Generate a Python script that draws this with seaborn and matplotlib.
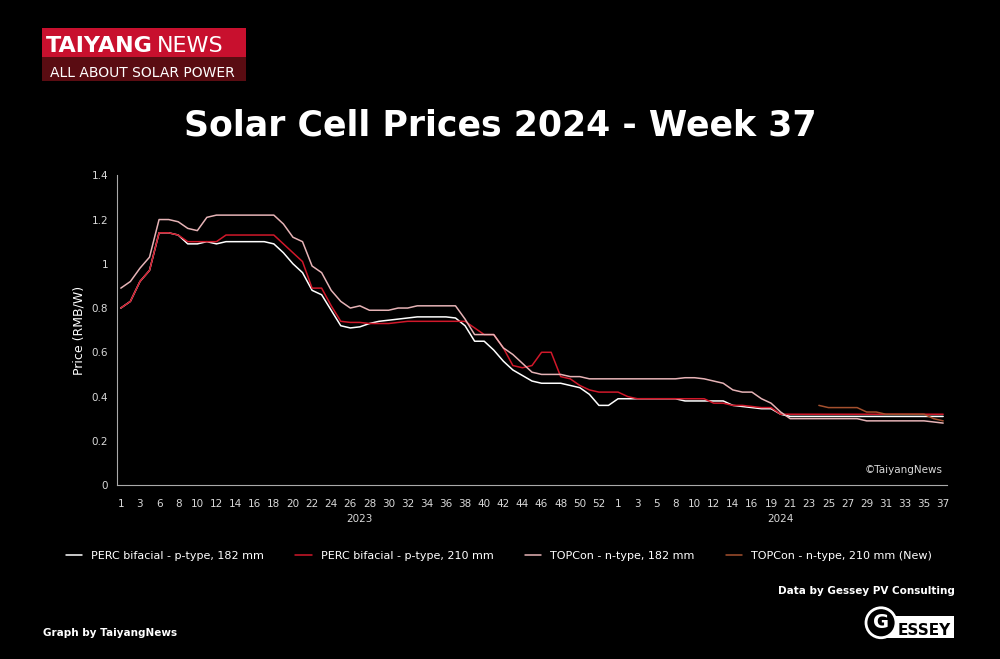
import numpy as np
import pandas as pd
import matplotlib
matplotlib.use("Agg")
import matplotlib.pyplot as plt
import seaborn as sns
from matplotlib.patches import Rectangle, Ellipse

# week labels on the category axis (one category per survey)
weeks_2023 = [1, 2, 3, 5] + list(range(6, 53))
weeks_2024 = [1, 2, 3, 4, 5, 7] + list(range(8, 17)) + [18] + list(range(19, 38))
week_labels = [str(w) for w in weeks_2023] + [''] + [str(w) for w in weeks_2024]

perc_182 = [.80, .83, .92, .97, 1.14, 1.14, 1.13, 1.09, 1.09, 1.10, 1.09,
            1.10, 1.10, 1.10, 1.10, 1.10,
            1.09, 1.05, 1.00, .96, .88, .86, .79, .72, .71, .715, .73, .74, .745, .75, .755,
            .76, .76, .76, .76, .755, .72, .65, .65, .61, .56, .52, .495, .47, .46, .46, .46,
            .45, .44, .41, .36, .36, .39,
            .39, .39, .39, .39, .39, .39,
            .38, .38, .38, .38, .38,
            .36, .355, .35, .345, .345, .32] + [.31] * 17

perc_210 = [.80, .83, .92, .97, 1.14, 1.14, 1.13, 1.10, 1.10, 1.10, 1.10] + [1.13] * 6 + \
           [1.09, 1.05, 1.01, .89, .89, .81, .74, .735, .735, .73, .73, .73, .735] + [.74] * 7 + \
           [.71, .68, .68, .62, .54, .53, .54, .60, .60, .49, .48, .45, .43, .42, .42, .42, .40] + \
           [.39] * 8 + [.37, .37, .36, .36, .355, .35, .35, .32] + [.32] * 17

topcon_182 = [.89, .92, .98, 1.03, 1.20, 1.20, 1.19, 1.16, 1.15, 1.21, 1.22] + [1.22] * 6 + \
             [1.18, 1.12, 1.10, .99, .96, .88, .83, .80, .81, .79, .79, .79, .80, .80,
              .81, .81, .81, .81, .81] + \
             [.75, .68, .68, .68, .62, .59, .55, .51, .50, .50, .50, .49, .49, .48] + \
             [.48] * 9 + [.485, .485, .48] + [.47, .46, .43, .42, .42, .39, .37, .33] + \
             [.30] * 8 + [.29] * 7 + [.285, .28]

topcon_210 = [np.nan] * 73 + [.36, .35, .35, .35, .35, .33, .33, .32, .32, .32, .32, .32, .30, .29]

series = {
    'PERC bifacial - p-type, 182 mm': (perc_182, '#ffffff'),
    'PERC bifacial - p-type, 210 mm': (perc_210, '#d0182a'),
    'TOPCon - n-type, 182 mm': (topcon_182, '#e6b3b6'),
    'TOPCon - n-type, 210 mm (New)': (topcon_210, '#a4502e'),
}

sns.set_theme(style="dark")
plt.rcParams['font.family'] = ['DejaVu Sans']

fig = plt.figure(figsize=(10, 6.59), dpi=100, facecolor='black')
ax = fig.add_axes([0.117, 0.264, 0.83, 0.47])
ax.set_facecolor('black')

idx = np.arange(len(week_labels))
for name, (vals, col) in series.items():
    sns.lineplot(x=idx, y=vals, color=col, lw=1.1, ax=ax, label=name)

ax.set_ylim(0, 1.4)
ax.set_xlim(-0.4, 86.4)
ax.set_yticks([0, 0.2, 0.4, 0.6, 0.8, 1.0, 1.2, 1.4])
ax.set_yticklabels(['0', '0.2', '0.4', '0.6', '0.8', '1', '1.2', '1.4'])
ax.set_xticks(idx[::2])
ax.set_xticklabels(week_labels[::2])
ax.tick_params(colors='#d9d9d9', labelsize=7.5, length=3, width=0.8, color='#888888')
ax.tick_params(axis='x', length=0, pad=10)
ax.grid(False)
for s in ['top', 'right']:
    ax.spines[s].set_visible(False)
for s in ['left', 'bottom']:
    ax.spines[s].set_color('#aaaaaa')
    ax.spines[s].set_linewidth(0.8)
ax.set_ylabel('Price (RMB/W)', color='white', fontsize=9)
ax.set_xlabel('')
ax.text(25, -0.165, '2023', transform=ax.transData, color='#d9d9d9', fontsize=7.5, ha='center')
ax.text(69, -0.165, '2024', transform=ax.transData, color='#d9d9d9', fontsize=7.5, ha='center')
ax.text(0.995, 0.04, '©TaiyangNews', transform=ax.transAxes, color='#d9d9d9', fontsize=7.5, ha='right')

ax.legend(loc='upper center', bbox_to_anchor=(0.46, -0.18), ncol=4, frameon=False,
          fontsize=8, labelcolor='white', handlelength=1.5, columnspacing=2.8)

fig.text(0.5, 0.795, 'Solar Cell Prices 2024 - Week 37', color='white', fontsize=25,
         fontweight='bold', ha='center')

# logo top left
fig.patches.append(Rectangle((0.042, 0.914), 0.204, 0.044, transform=fig.transFigure,
                             facecolor='#c8102e', edgecolor='none'))
fig.patches.append(Rectangle((0.042, 0.877), 0.204, 0.037, transform=fig.transFigure,
                             facecolor='#5a0c12', edgecolor='none'))
fig.text(0.046, 0.921, 'TAIYANG', color='white', fontsize=16, fontweight='bold')
fig.text(0.157, 0.921, 'NEWS', color='white', fontsize=16)
fig.text(0.050, 0.883, 'ALL ABOUT SOLAR POWER', color='white', fontsize=10)

fig.text(0.955, 0.099, 'Data by Gessey PV Consulting', color='white', fontsize=7.5,
         fontweight='bold', ha='right')
fig.text(0.043, 0.035, 'Graph by TaiyangNews', color='white', fontsize=7.5, fontweight='bold')
fig.patches.append(Rectangle((0.88, 0.032), 0.074, 0.034, transform=fig.transFigure,
                             facecolor='white', edgecolor='none'))
fig.patches.append(Ellipse((0.881, 0.055), 0.03, 0.0455, transform=fig.transFigure,
                           facecolor='black', edgecolor='white', lw=2))
fig.text(0.881, 0.055, 'G', color='white', fontsize=14, fontweight='bold', ha='center', va='center')
fig.text(0.898, 0.037, 'ESSEY', color='black', fontsize=11, fontweight='bold')

fig.savefig('out.png', dpi=100, facecolor='black')
